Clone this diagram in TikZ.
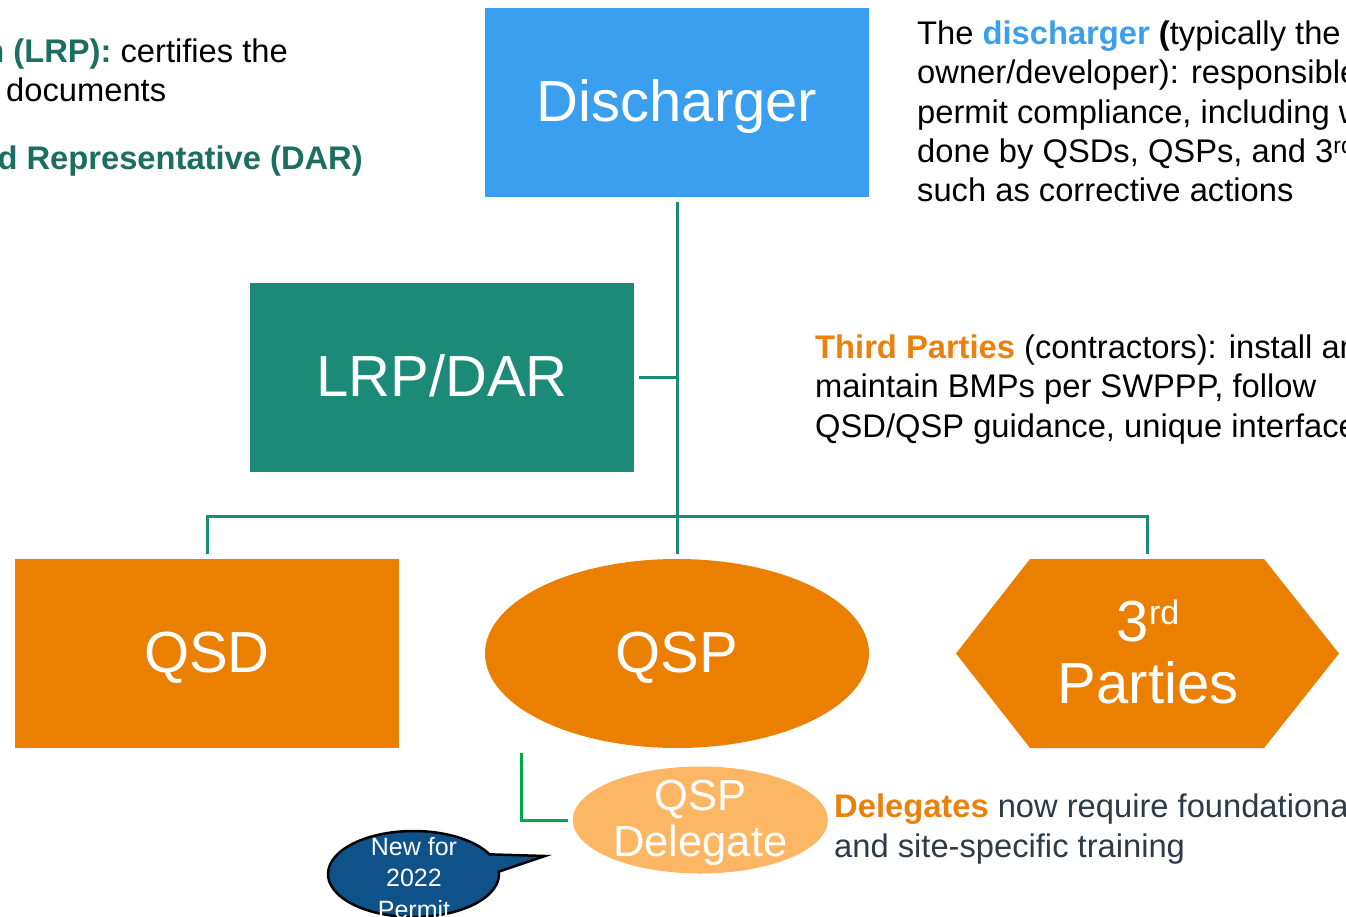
\documentclass[tikz,border=0pt]{standalone}
\usepackage{fontspec}
\setmainfont{Liberation Sans}
\usetikzlibrary{shapes.geometric,shapes.callouts}
\definecolor{dblue}{HTML}{3A9FEE}
\definecolor{dteal}{HTML}{1B8A76}
\definecolor{tealtxt}{HTML}{1C6F60}
\definecolor{orng}{HTML}{EA7F00}
\definecolor{otxt}{HTML}{E8820C}
\definecolor{lorng}{HTML}{FDB764}
\definecolor{bblue}{HTML}{0F5189}
\definecolor{gline}{HTML}{00A651}
\definecolor{dgray}{HTML}{2E3A45}
\tikzset{
  box/.style={rectangle, minimum width=384, minimum height=189, inner sep=0, outer sep=5pt,
    text=white, font=\fontsize{58}{62}\selectfont, text height=41.5pt, text depth=4pt},
  ell/.style={ellipse, minimum width=384, minimum height=189, inner sep=0, outer sep=5pt,
    text=white, font=\fontsize{58}{62}\selectfont, text height=41.5pt, text depth=4pt},
  bigtxt/.style={anchor=base, inner sep=0, text=white, font=\fontsize{58}{62}\selectfont},
  deltxt/.style={anchor=base, inner sep=0, text=white, font=\fontsize{43.5}{46}\selectfont},
  bubtxt/.style={anchor=base, inner sep=0, text=white, font=\fontsize{25}{30}\selectfont},
  para/.style={anchor=base west, inner sep=0, font=\fontsize{32.7}{39}\selectfont},
  parae/.style={anchor=base east, inner sep=0, font=\fontsize{32.7}{39}\selectfont},
  conn/.style={draw=dteal, line width=3pt},
  gconn/.style={draw=gline, line width=3pt},
}
\begin{document}
\begin{tikzpicture}[x=1pt,y=-1pt]
\useasboundingbox (0,0) rectangle (1346,917);
\clip (0,0) rectangle (1346,917);
\fill[white] (0,0) rectangle (1346,917);

% shapes
\node[box, fill=dblue] (disch) at (677,102.5) {Discharger};
\node[box, fill=dteal] (lrp) at (442,377.5) {LRP/DAR};
\node[box, fill=orng] (qsd) at (207,653.5) {QSD};
\node[ell, fill=orng] (qsp) at (677,653.5) {QSP};
\fill[orng] (1030,559) -- (1264,559) -- (1339,653.5) -- (1264,748) -- (1030,748) -- (956,653.5) -- cycle;
\node[rectangle, minimum width=383, minimum height=189, inner sep=0, outer sep=5pt] (third) at (1147,653.5) {};
\node[bigtxt] at (1148,641.5) {3\raisebox{17pt}{\fontsize{34}{34}\selectfont rd}};
\node[bigtxt] at (1148,703.3) {Parties};

\node[ellipse, fill=lorng, minimum width=255, minimum height=107, inner sep=0, outer sep=5pt] (deleg) at (700.3,820) {};
\node[deltxt] at (700.3,810.7) {QSP};
\node[deltxt] at (700.3,856.7) {Delegate};

\node[ellipse callout, draw=black, line width=2.5pt, fill=bblue, minimum width=171, minimum height=86, inner sep=0,
  callout pointer arc=24, callout absolute pointer={(545,856)}] (bubble) at (413.5,874) {};
\node[bubtxt] at (414,855) {New for};
\node[bubtxt] at (414,886.5) {2022};
\node[bubtxt] at (414,918) {Permit};

% connectors
\coordinate (bus) at (677,516);
\draw[conn] (disch.south) -- (qsp.north);
\draw[conn] (lrp.east) -- (lrp.east -| disch.south);
\draw[conn] (qsd.north) -- (qsd.north |- bus) -- (third.north |- bus) -- (third.north);
\draw[gconn] ([xshift=-156pt]qsp.south) |- (deleg.west);

% texts
\node[parae] at (288,63) {{\bfseries\color{tealtxt}n (LRP):} certifies the};
\node[para] at (6,102) {documents};
\node[parae, text=tealtxt, font=\fontsize{32.7}{39}\selectfont\bfseries] at (363,169.5) {d Representative (DAR)};

\node[para] at (917,44.3) {The {\bfseries\color{dblue}discharger} {\bfseries(}typically the};
\node[para] at (917,83.7) {owner/developer): responsible for};
\node[para] at (917,123.1) {permit compliance, including work};
\node[para] at (917,162.5) {done by QSDs, QSPs, and 3\textsuperscript{rd} parties,};
\node[para] at (917,201.9) {such as corrective actions};

\node[para] at (815,358) {{\bfseries\color{otxt}Third Parties} (contractors): install and};
\node[para] at (815,397.5) {maintain BMPs per SWPPP, follow};
\node[para] at (815,437) {QSD/QSP guidance, unique interface};

\node[para, text=dgray] at (834,817.5) {{\bfseries\color{otxt}Delegates} now require foundational};
\node[para, text=dgray] at (834,857) {and site-specific training};
\end{tikzpicture}
\end{document}
